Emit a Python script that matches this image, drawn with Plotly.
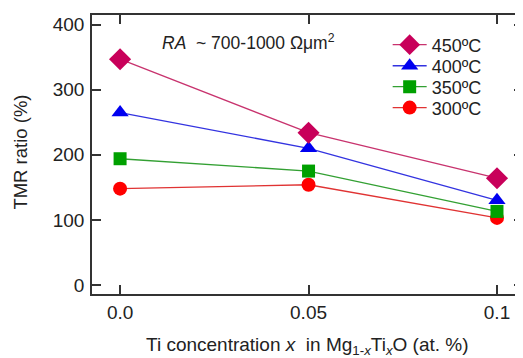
import plotly.graph_objects as go

x_vals = [0.0, 0.05, 0.1]
tmr_450 = [347, 234, 164]
tmr_400 = [265, 210, 130]
tmr_350 = [194, 175, 113]
tmr_300 = [148, 154, 103]
labels = ["450ºC", "400ºC", "350ºC", "300ºC"]
x_ticks = [0.0, 0.05, 0.1]
x_tick_text = ["0.0", "0.05", "0.1"]
y_ticks = [0, 100, 200, 300, 400]

series = [
    (labels[0], tmr_450, "#C8005A", "#C8336E", "diamond", 17, "legend", 0.8925),
    (labels[1], tmr_400, "#0000F0", "#3333E0", "triangle-up", 15, "legend2", 0.817),
    (labels[2], tmr_350, "#00A000", "#33A033", "square", 13, "legend3", 0.742),
    (labels[3], tmr_300, "#FF0000", "#E03333", "circle", 14, "legend4", 0.667),
]

font = "Liberation Sans, Arial, sans-serif"
axcol = "#333333"
txtcol = "#222222"

fig = go.Figure()
legend_layouts = {}
# draw lowest-temperature series first so higher ones sit on top (as in the reference)
for name, ys, mc, lc, sym, sz, lg, ly in reversed(series):
    fig.add_trace(go.Scatter(
        x=x_vals, y=ys, name=name, mode="lines+markers", legend=lg,
        line=dict(color=lc, width=1.3),
        marker=dict(symbol=sym, size=sz, color=mc, line=dict(width=0)),
    ))
    legend_layouts[lg] = dict(x=0.686, y=ly, xanchor="left", yanchor="middle",
                              bgcolor="rgba(0,0,0,0)", font=dict(size=18, family=font, color=txtcol),
                              itemwidth=34)

fig.update_layout(
    width=515, height=350,
    margin=dict(l=84, r=0, t=7, b=64),
    paper_bgcolor="white", plot_bgcolor="white",
    font=dict(family=font, size=18, color=txtcol),
    showlegend=True,
    xaxis=dict(range=[-0.00745, 0.1069], tickvals=x_ticks, ticktext=x_tick_text,
               ticks="inside", ticklen=9, tickwidth=1.5, tickcolor=axcol,
               showline=True, linecolor=axcol, linewidth=1.5, mirror="allticks",
               showgrid=False, zeroline=False, tickfont=dict(size=19),
               automargin=False, ticklabelstandoff=0),
    yaxis=dict(range=[-14, 415], tickvals=y_ticks,
               ticks="inside", ticklen=9, tickwidth=1.5, tickcolor=axcol,
               showline=True, linecolor=axcol, linewidth=1.5, mirror="allticks",
               showgrid=False, zeroline=False, tickfont=dict(size=19),
               automargin=False, ticklabelstandoff=2),
    **legend_layouts,
)
fig.add_annotation(text="<i>RA</i>  ~ 700-1000 Ωμm<sup>2</sup>", xref="paper", yref="paper",
                   x=0.158, y=0.905, xanchor="left", yanchor="middle", showarrow=False,
                   font=dict(size=17.5, family=font, color=txtcol))
fig.add_annotation(text="Ti concentration <i>x</i>  in Mg<sub>1-<i>x</i></sub>Ti<sub><i>x</i></sub>O (at. %)",
                   xref="paper", yref="paper", x=0.5, y=-0.185, xanchor="center", yanchor="middle",
                   showarrow=False, font=dict(size=19, family=font, color=txtcol))
fig.add_annotation(text="TMR ratio (%)", xref="paper", yref="paper", x=-0.165, y=0.51,
                   xanchor="center", yanchor="middle", textangle=-90, showarrow=False,
                   font=dict(size=18.5, family=font, color=txtcol))
fig.write_html("out.html")
